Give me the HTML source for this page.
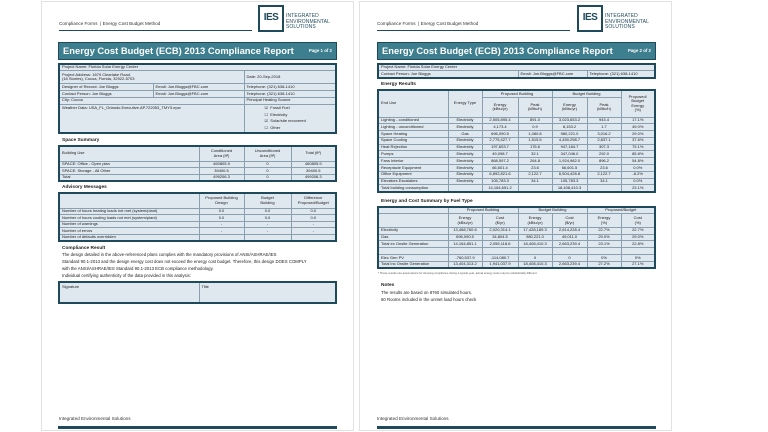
<!DOCTYPE html>
<html><head><meta charset="utf-8"><style>
*{margin:0;padding:0;box-sizing:border-box}
body{width:768px;height:432px;background:#fff;position:relative;overflow:hidden;font-family:"Liberation Sans",sans-serif;color:#222}
.page{position:absolute;top:1px;height:430px;background:#fff;border:1px solid #e2e2e2}
.a{position:absolute}
.hdr{font-size:4.6px;color:#333}
.hline{height:1px;background:#1e4a5c}
.logo{width:26px;height:27px;border:2.5px solid #1e4a5c;font-weight:bold;font-size:10px;color:#1e4a5c;text-align:center;line-height:22px;letter-spacing:-0.5px}
.logot{font-size:5px;line-height:5.6px;color:#1e4a5c;letter-spacing:0.1px}
.title{height:18px;background:#3d7f8f;border:1.5px solid #1e4a5c;color:#fff;font-weight:bold;font-size:9.4px;line-height:15px;padding-left:4px;white-space:nowrap}
.title span{position:absolute;right:4px;top:0;font-size:4.4px}
table{position:absolute;border-collapse:collapse;table-layout:fixed;border:2px solid #1e4a5c;background:#dfe7ef}
td{border:0.6px solid #8aa0b0;font-size:4px;line-height:4.6px;padding:0 2px;white-space:nowrap;overflow:hidden;vertical-align:middle}
td.c{text-align:center}
.sec{font-size:4.8px;font-weight:bold;color:#222}
.txt{font-size:4.3px;line-height:7px;color:#222;white-space:nowrap}
.foot{height:2.5px;background:#1e4a5c}
</style></head><body>

<!-- PAGE 1 -->
<div class="page" style="left:41px;width:313px"></div>
<div class="a hdr" style="left:59px;top:21px">Compliance Forms &nbsp;| Energy Cost Budget Method</div>
<div class="a hline" style="left:59px;top:30px;width:193px"></div>
<div class="a logo" style="left:258px;top:5px">IES</div>
<div class="a logot" style="left:286px;top:14px">INTEGRATED<br>ENVIRONMENTAL<br>SOLUTIONS</div>
<div class="a title" style="left:58px;top:42px;width:279px">Energy Cost Budget (ECB) 2013 Compliance Report<span>Page 1 of 2</span></div>

<table style="left:58px;top:63px;width:279px">
<colgroup><col style="width:94px"><col style="width:91px"><col></colgroup>
<tr style="height:6.8px"><td colspan="3">Project Name: Florida Solar Energy Center</td></tr>
<tr style="height:13px"><td colspan="2">Project Address: 1679 Clearlake Road,<br>(18 Stories), Cocoa, Florida, 32922-5703</td><td>Date: 20-Sep-2018</td></tr>
<tr style="height:6.8px"><td>Designer of Record: Joe Bloggs</td><td>Email: Joe.Bloggs@FBC.com</td><td>Telephone: (321) 638-1410</td></tr>
<tr style="height:6.8px"><td>Contact Person: Joe Bloggs</td><td>Email: Joe.Bloggs@FBC.com</td><td>Telephone: (321) 638-1410</td></tr>
<tr style="height:6.8px"><td colspan="2">City: Cocoa</td><td>Principal Heating Source</td></tr>
<tr style="height:29px"><td colspan="2" style="vertical-align:top;padding-top:1px">Weather Data: USA_FL_Orlando.Executive.AP.722053_TMY3.epw</td><td style="padding-left:20px;line-height:6.8px">☑ &nbsp;Fossil Fuel<br>☐ &nbsp;Electricity<br>☑ &nbsp;Solar/site recovered<br>☐ &nbsp;Other</td></tr>
</table>

<div class="a sec" style="left:62px;top:138px">Space Summary</div>
<table style="left:58px;top:145px;width:279px">
<colgroup><col style="width:140px"><col style="width:45px"><col style="width:47px"><col></colgroup>
<tr style="height:15px"><td>Building Use</td><td class="c">Conditioned<br>Area (ft²)</td><td class="c">Unconditioned<br>Area (ft²)</td><td class="c">Total (ft²)</td></tr>
<tr style="height:6.6px"><td>SPACE: Office - Open plan</td><td class="c">460805.9</td><td class="c">0</td><td class="c">460805.9</td></tr>
<tr style="height:6.6px"><td>SPACE: Storage - All Other</td><td class="c">39400.5</td><td class="c">0</td><td class="c">39400.5</td></tr>
<tr style="height:6.6px"><td>Total</td><td class="c">499206.3</td><td class="c">0</td><td class="c">499206.3</td></tr>
</table>

<div class="a sec" style="left:62px;top:185px">Advisory Messages</div>
<table style="left:58px;top:192px;width:279px">
<colgroup><col style="width:140px"><col style="width:45px"><col style="width:47px"><col></colgroup>
<tr style="height:15px"><td></td><td class="c">Proposed Building<br>Design</td><td class="c">Budget<br>Building</td><td class="c">Difference<br>Proposed/Budget</td></tr>
<tr style="height:6.6px"><td>Number of hours heating loads not met (system/plant)</td><td class="c">0.0</td><td class="c">0.0</td><td class="c">0.0</td></tr>
<tr style="height:6.6px"><td>Number of hours cooling loads not met (system/plant)</td><td class="c">0.0</td><td class="c">0.0</td><td class="c">0.0</td></tr>
<tr style="height:6.6px"><td>Number of warnings</td><td class="c">-</td><td class="c">-</td><td class="c">-</td></tr>
<tr style="height:6.6px"><td>Number of errors</td><td class="c">-</td><td class="c">-</td><td class="c">-</td></tr>
<tr style="height:6.6px"><td>Number of defaults overridden</td><td></td><td></td><td></td></tr>
</table>

<div class="a sec" style="left:62px;top:246px">Compliance Result</div>
<div class="a txt" style="left:62px;top:251px">The design detailed in the above-referenced plans complies with the mandatory provisions of ANSI/ASHRAE/IES<br>Standard 90.1-2013 and the design energy cost does not exceed the energy cost budget. Therefore, this design DOES COMPLY<br>with the ANSI/ASHRAE/IES Standard 90.1-2013 ECB compliance methodology.<br>Individual certifying authenticity of the data provided in this analysis:</div>
<table style="left:58px;top:281px;width:279px">
<colgroup><col style="width:140px"><col></colgroup>
<tr style="height:21px"><td style="vertical-align:top;padding-top:2px">Signature</td><td style="vertical-align:top;padding-top:2px">Title</td></tr>
</table>

<div class="a hdr" style="left:59px;top:416px">Integrated Environmental Solutions</div>
<div class="a foot" style="left:58px;top:426px;width:279px"></div>

<!-- PAGE 2 -->
<div class="page" style="left:359px;width:313px"></div>
<div class="a hdr" style="left:377px;top:21px">Compliance Forms &nbsp;| Energy Cost Budget Method</div>
<div class="a hline" style="left:377px;top:30px;width:193px"></div>
<div class="a logo" style="left:577px;top:5px">IES</div>
<div class="a logot" style="left:605px;top:14px">INTEGRATED<br>ENVIRONMENTAL<br>SOLUTIONS</div>
<div class="a title" style="left:377px;top:42px;width:279px">Energy Cost Budget (ECB) 2013 Compliance Report<span>Page 2 of 2</span></div>

<table style="left:377px;top:63px;width:279px">
<colgroup><col style="width:140px"><col style="width:69px"><col></colgroup>
<tr style="height:6.8px"><td colspan="3">Project Name: Florida Solar Energy Center</td></tr>
<tr style="height:6.8px"><td>Contact Person: Joe Bloggs</td><td>Email: Joe.Bloggs@FBC.com</td><td>Telephone: (321) 638-1410</td></tr>
</table>

<div class="a sec" style="left:381px;top:82px">Energy Results</div>
<table style="left:377px;top:89px;width:279px">
<colgroup><col style="width:70px"><col style="width:34px"><col style="width:36px"><col style="width:34px"><col style="width:35px"><col style="width:34px"><col></colgroup>
<tr style="height:7.5px"><td rowspan="2">End Use</td><td rowspan="2" class="c">Energy Type</td><td colspan="2" class="c">Proposed Building</td><td colspan="2" class="c">Budget Building</td><td rowspan="2" class="c">Proposed/<br>Budget<br>Energy<br>(%)</td></tr>
<tr style="height:19.5px"><td class="c">Energy<br>(kBtu/yr)</td><td class="c">Peak<br>(kBtu/h)</td><td class="c">Energy<br>(kBtu/yr)</td><td class="c">Peak<br>(kBtu/h)</td></tr>
<tr style="height:6.8px"><td>Lighting - conditioned</td><td class="c">Electricity</td><td class="c">2,505,895.4</td><td class="c">891.0</td><td class="c">3,023,653.2</td><td class="c">943.4</td><td class="c">17.1%</td></tr>
<tr style="height:6.8px"><td>Lighting - unconditioned</td><td class="c">Electricity</td><td class="c">4,173.4</td><td class="c">0.9</td><td class="c">8,153.2</td><td class="c">1.7</td><td class="c">49.0%</td></tr>
<tr style="height:6.8px"><td>Space Heating</td><td class="c">Gas</td><td class="c">696,090.5</td><td class="c">1,080.8</td><td class="c">980,221.0</td><td class="c">3,016.2</td><td class="c">29.0%</td></tr>
<tr style="height:6.8px"><td>Space Cooling</td><td class="c">Electricity</td><td class="c">2,775,427.7</td><td class="c">1,515.5</td><td class="c">4,450,298.7</td><td class="c">2,837.1</td><td class="c">37.6%</td></tr>
<tr style="height:6.8px"><td>Heat Rejection</td><td class="c">Electricity</td><td class="c">197,603.7</td><td class="c">176.6</td><td class="c">947,184.7</td><td class="c">307.3</td><td class="c">79.1%</td></tr>
<tr style="height:6.8px"><td>Pumps</td><td class="c">Electricity</td><td class="c">49,098.7</td><td class="c">32.1</td><td class="c">347,046.0</td><td class="c">292.0</td><td class="c">85.8%</td></tr>
<tr style="height:6.8px"><td>Fans Interior</td><td class="c">Electricity</td><td class="c">868,597.2</td><td class="c">264.8</td><td class="c">1,924,982.0</td><td class="c">896.2</td><td class="c">54.8%</td></tr>
<tr style="height:6.8px"><td>Receptacle Equipment</td><td class="c">Electricity</td><td class="c">66,601.4</td><td class="c">23.6</td><td class="c">66,601.5</td><td class="c">23.6</td><td class="c">0.0%</td></tr>
<tr style="height:6.8px"><td>Office Equipment</td><td class="c">Electricity</td><td class="c">6,892,821.6</td><td class="c">2,122.7</td><td class="c">6,504,428.8</td><td class="c">2,122.7</td><td class="c">-6.2%</td></tr>
<tr style="height:6.8px"><td>Elevators Escalators</td><td class="c">Electricity</td><td class="c">105,783.3</td><td class="c">34.1</td><td class="c">105,783.3</td><td class="c">34.1</td><td class="c">0.0%</td></tr>
<tr style="height:6.8px"><td>Total building consumption</td><td></td><td class="c">14,164,651.2</td><td></td><td class="c">18,408,410.3</td><td></td><td class="c">23.1%</td></tr>
</table>

<div class="a sec" style="left:381px;top:199px">Energy and Cost Summary by Fuel Type</div>
<table style="left:377px;top:206px;width:279px">
<colgroup><col style="width:70px"><col style="width:34px"><col style="width:36px"><col style="width:34px"><col style="width:35px"><col style="width:34px"><col></colgroup>
<tr style="height:6.8px"><td></td><td colspan="2" class="c">Proposed Building</td><td colspan="2" class="c">Budget Building</td><td colspan="2" class="c">Proposed/Budget</td></tr>
<tr style="height:13.5px"><td></td><td class="c">Energy<br>(kBtu/yr)</td><td class="c">Cost<br>($/yr)</td><td class="c">Energy<br>(kBtu/yr)</td><td class="c">Cost<br>($/yr)</td><td class="c">Energy<br>(%)</td><td class="c">Cost<br>(%)</td></tr>
<tr style="height:6.8px"><td>Electricity</td><td class="c">13,468,760.6</td><td class="c">2,020,314.1</td><td class="c">17,428,189.3</td><td class="c">2,614,228.4</td><td class="c">22.7%</td><td class="c">22.7%</td></tr>
<tr style="height:6.8px"><td>Gas</td><td class="c">696,090.5</td><td class="c">34,804.5</td><td class="c">980,221.0</td><td class="c">49,011.0</td><td class="c">29.0%</td><td class="c">29.0%</td></tr>
<tr style="height:6.8px"><td>Total ex Onsite Generation</td><td class="c">14,164,851.1</td><td class="c">2,055,118.6</td><td class="c">18,408,410.3</td><td class="c">2,663,239.4</td><td class="c">23.1%</td><td class="c">22.8%</td></tr>
<tr style="height:6.8px"><td></td><td></td><td></td><td></td><td></td><td></td><td></td></tr>
<tr style="height:6.8px"><td>Elec Gen PV</td><td class="c">-760,537.9</td><td class="c">-114,080.7</td><td class="c">0</td><td class="c">0</td><td class="c">0%</td><td class="c">0%</td></tr>
<tr style="height:6.8px"><td>Total inc Onsite Generation</td><td class="c">13,404,313.2</td><td class="c">1,941,037.9</td><td class="c">18,408,410.3</td><td class="c">2,663,239.4</td><td class="c">27.2%</td><td class="c">27.1%</td></tr>
</table>
<div class="a" style="left:378px;top:271px;font-size:2.8px;color:#555;white-space:nowrap">* These results use assumptions for showing compliance during a typical year, actual energy costs may be substantially different.</div>

<div class="a sec" style="left:381px;top:283px">Notes</div>
<div class="a txt" style="left:381px;top:289px">The results are based on 8760 simulated hours.<br>60 Rooms included in the unmet load hours check</div>

<div class="a hdr" style="left:377px;top:416px">Integrated Environmental Solutions</div>
<div class="a foot" style="left:377px;top:426px;width:279px"></div>
</body></html>
